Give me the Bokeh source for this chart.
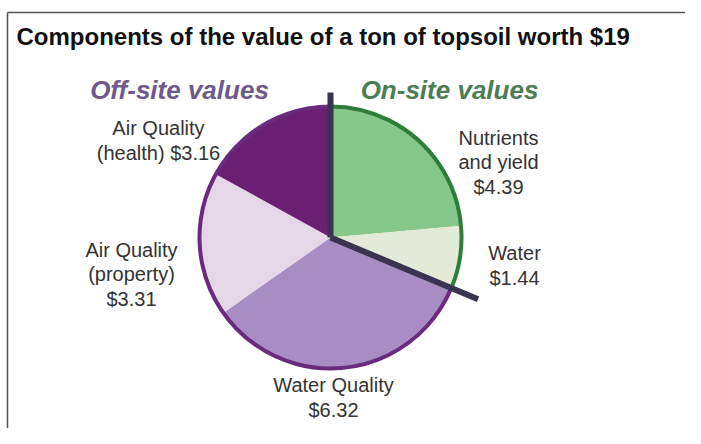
import numpy as np
from bokeh.plotting import figure
from bokeh.models import Range1d, ColumnDataSource
from bokeh.core.properties import value
from bokeh.embed import file_html
from bokeh.resources import INLINE

# ---- data ----
categories = ["Nutrients and yield", "Water", "Water Quality", "Air Quality (property)", "Air Quality (health)"]
amounts = [4.39, 1.44, 6.32, 3.31, 3.16]
groups = ["On-site", "On-site", "Off-site", "Off-site", "Off-site"]
label_texts = ["Nutrients\nand yield\n$4.39", "Water\n$1.44", "Water Quality\n$6.32",
               "Air Quality\n(property)\n$3.31", "Air Quality\n(health) $3.16"]
colors = ["#86c78a", "#e3ead7", "#a78dc3", "#e6d7e8", "#6b1f72"]
title_text = "Components of the value of a ton of topsoil worth $19"
group_titles = ["Off-site values", "On-site values"]

H = 444
def Y(yref):
    return H - yref

p = figure(width=685, height=428, output_backend="svg", toolbar_location=None,
           x_range=Range1d(0, 685), y_range=Range1d(16, 444),
           min_border=0, outline_line_color=None)
p.axis.visible = False
p.grid.visible = False
p.background_fill_color = "white"
p.border_fill_color = "white"

# frame (left & top visible)
p.segment(x0=[7, 7], y0=[Y(444), Y(12)], x1=[7, 700], y1=[Y(12), Y(12)],
          line_color="#555555", line_width=1.5)

cx, cy = 330, Y(237)
R = 132
total = sum(amounts)
frac = np.array(amounts) / total
cum = np.concatenate([[0], np.cumsum(frac)])
starts = np.pi / 2 - 2 * np.pi * cum[:-1]
ends = np.pi / 2 - 2 * np.pi * cum[1:]

src = ColumnDataSource(dict(cat=categories, val=amounts, start=starts, end=ends, color=colors))
p.wedge(x=cx, y=cy, radius=R, start_angle="start", end_angle="end", direction="clock",
        fill_color="color", line_color=None, source=src)

onsite_total = sum(a for a, g in zip(amounts, groups) if g == "On-site")
a_top = np.pi / 2
a_split = np.pi / 2 - 2 * np.pi * onsite_total / total

# outline arcs
p.arc(x=cx, y=cy, radius=R - 1, start_angle=a_top, end_angle=a_split, direction="clock",
      line_color="#2e7d3b", line_width=4)
p.arc(x=cx, y=cy, radius=R - 1, start_angle=a_split, end_angle=a_top, direction="clock",
      line_color="#6a2a7e", line_width=4)

# separator rays
p.ray(x=[cx, cx], y=[cy, cy], length=[145, 160], angle=[a_top, a_split],
      length_units="screen", line_color="#3a3450", line_width=6)

# slice labels
lx = [498, 514, 333, 131, 158]
ly = [Y(162), Y(265), Y(397), Y(274), Y(140)]
p.text(x=lx, y=ly, text=label_texts, text_align="center", text_baseline="middle",
       text_font=value("Liberation Sans"), text_font_size="20px", text_color="#333333",
       text_line_height=1.1)

# group headers
p.text(x=[179, 449], y=[Y(89), Y(89)], text=group_titles, text_align="center",
       text_baseline="middle", text_font=value("Liberation Sans"), text_font_size="26px",
       text_font_style="bold italic", text_color=["#6d5a8b", "#4b7d57"])

# title
p.text(x=[16], y=[Y(36)], text=[title_text], text_align="left", text_baseline="middle",
       text_font=value("Liberation Sans"), text_font_size="24px", text_font_style="bold",
       text_color="#111111")

open("out.html", "w").write(file_html(p, INLINE))
